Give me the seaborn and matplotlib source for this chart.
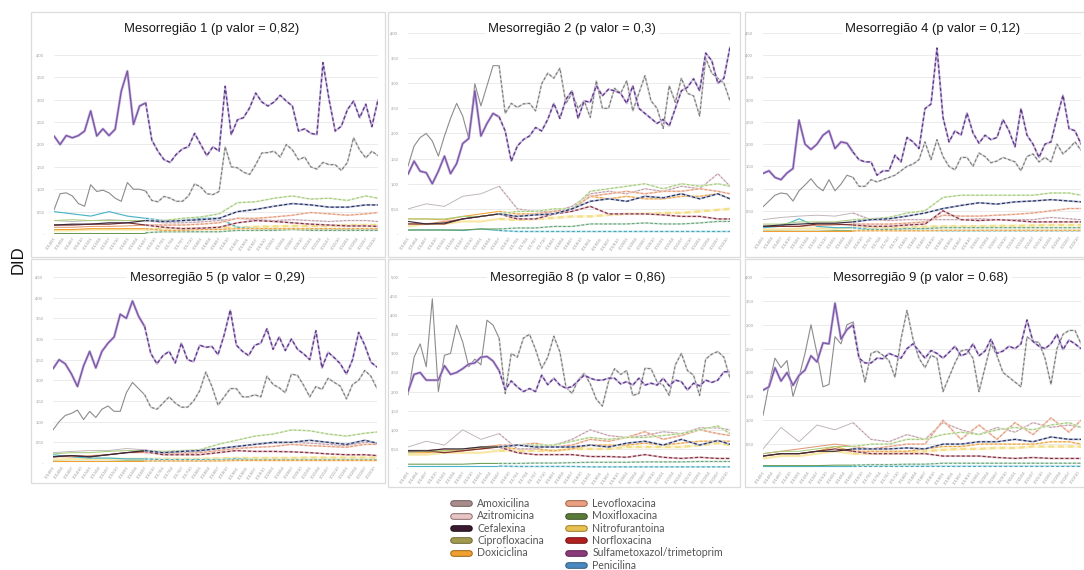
import numpy as np
import pandas as pd
import matplotlib
matplotlib.use("Agg")
import matplotlib.pyplot as plt
import matplotlib.patheffects as pe
from matplotlib.lines import Line2D
from matplotlib.patches import Rectangle
import seaborn as sns

sns.set_style("white")
plt.rcParams["font.family"] = ["Liberation Sans", "DejaVu Sans"]

# ---------------- data ----------------
ANTIBIOTICS_COL1 = ["Amoxicilina", "Azitromicina", "Cefalexina", "Ciprofloxacina", "Doxiciclina"]
ANTIBIOTICS_COL2 = ["Levofloxacina", "Moxifloxacina", "Nitrofurantoina", "Norfloxacina",
                    "Sulfametoxazol/trimetoprim", "Penicilina"]

START_YEAR = 2014
BREAK_MONTH = 30
MONTHS_MAIN = list(range(0, 107, 2))          # 54 points
MONTHS_LOW = list(range(0, 103, 6)) + [106]   # 19 points
TICK_MONTHS = list(range(0, 107, 3))
TICK_LABELS = [f"{START_YEAR + m // 12}/{m % 12 + 1:02d}" for m in TICK_MONTHS]

TITLES = ["Mesorregião 1 (p valor = 0,82)", "Mesorregião 2 (p valor = 0,3)",
          "Mesorregião 4 (p valor = 0,12)", "Mesorregião 5 (p valor = 0,29)",
          "Mesorregião 8 (p valor = 0,86)", "Mesorregião 9 (p valor = 0.68)"]
Y_TOPS = [4.0, 4.0, 4.5, 4.5, 5.0, 4.0]

# --- Mesorregião 1 ---
M1_SMX = [2.19, 2.0, 2.2, 2.15, 2.2, 2.3, 2.75, 2.19, 2.35, 2.2, 2.34, 3.19, 3.64, 2.45, 2.86, 2.93,
          2.1, 1.85, 1.66, 1.6, 1.78, 1.9, 1.95, 2.25, 2.0, 1.75, 1.95, 1.85, 3.3, 2.22, 2.55, 2.6,
          2.82, 3.15, 2.95, 2.86, 2.95, 3.1, 2.97, 2.86, 2.3, 2.35, 2.25, 2.22, 3.83, 3.0, 2.3, 2.41,
          2.78, 2.97, 2.6, 2.9, 2.4, 3.0]
M1_AMOX = [0.54, 0.9, 0.92, 0.85, 0.68, 0.62, 1.1, 0.95, 0.98, 0.92, 0.8, 0.73, 1.15, 1.0, 1.0, 0.96,
           0.75, 0.72, 0.84, 0.8, 0.73, 0.73, 0.85, 1.12, 1.05, 0.9, 0.88, 0.95, 1.95, 1.5, 1.48, 1.38,
           1.33, 1.55, 1.81, 1.82, 1.85, 1.72, 2.0, 1.88, 1.66, 1.72, 1.5, 1.45, 1.6, 1.55, 1.55, 1.42,
           1.6, 2.15, 1.88, 1.7, 1.85, 1.75]
M1_AZI = [0.3, 0.28, 0.3, 0.32, 0.3, 0.3, 0.25, 0.25, 0.27, 0.3, 0.35, 0.32, 0.3, 0.32, 0.3, 0.28, 0.3, 0.3, 0.28]
M1_CIPRO = [0.3, 0.32, 0.3, 0.3, 0.3, 0.3, 0.3, 0.35, 0.38, 0.45, 0.7, 0.72, 0.8, 0.85, 0.78, 0.8, 0.75, 0.85, 0.8]
M1_CEF = [0.2, 0.22, 0.22, 0.25, 0.25, 0.3, 0.28, 0.3, 0.32, 0.35, 0.5, 0.55, 0.62, 0.68, 0.65, 0.6, 0.6, 0.65, 0.65]
M1_DOXI = [0.1, 0.1, 0.12, 0.12, 0.12, 0.12, 0.08, 0.08, 0.1, 0.1, 0.12, 0.12, 0.12, 0.12, 0.12, 0.12, 0.12, 0.12, 0.12]
M1_LEVO = [0.15, 0.15, 0.17, 0.17, 0.18, 0.2, 0.2, 0.2, 0.22, 0.25, 0.35, 0.35, 0.38, 0.42, 0.48, 0.45, 0.42, 0.45, 0.48]
M1_MOXI = [0.03, 0.03, 0.03, 0.03, 0.03, 0.03, 0.05, 0.05, 0.05, 0.05, 0.08, 0.08, 0.08, 0.1, 0.08, 0.08, 0.08, 0.08, 0.08]
M1_NITRO = [0.08, 0.08, 0.1, 0.1, 0.1, 0.1, 0.12, 0.12, 0.12, 0.14, 0.15, 0.16, 0.17, 0.18, 0.18, 0.18, 0.2, 0.2, 0.2]
M1_NOR = [0.2, 0.2, 0.22, 0.22, 0.25, 0.2, 0.15, 0.12, 0.13, 0.15, 0.25, 0.3, 0.28, 0.25, 0.22, 0.2, 0.18, 0.18, 0.17]
M1_PEN = [0.5, 0.45, 0.4, 0.5, 0.4, 0.35, 0.3, 0.3, 0.35, 0.35, 0.15, 0.12, 0.1, 0.12, 0.1, 0.1, 0.1, 0.1, 0.1]

# --- Mesorregião 2 ---
M2_SMX = [1.19, 1.45, 1.25, 1.22, 1.0, 1.25, 1.55, 1.2, 1.4, 1.8, 1.9, 2.85, 1.95, 2.2, 2.4, 2.33,
          2.05, 1.45, 1.75, 1.88, 1.95, 2.12, 2.05, 2.28, 2.6, 2.3, 2.68, 2.85, 2.3, 2.65, 2.62, 2.95,
          2.75, 2.88, 2.85, 2.8, 2.6, 2.95, 2.5, 2.4, 2.3, 2.2, 2.28, 2.15, 2.5, 2.85, 2.92, 3.09,
          2.85, 3.6, 3.45, 3.0, 3.1, 3.72]
M2_AMOX = [1.35, 1.75, 1.92, 2.0, 1.85, 1.55, 1.95, 2.3, 2.6, 2.35, 1.9, 2.99, 2.55, 2.95, 3.35, 3.35,
           2.4, 2.6, 2.52, 2.59, 2.6, 2.45, 2.99, 3.2, 3.1, 3.3, 2.6, 2.8, 2.5, 2.65, 2.32, 3.05,
           2.5, 2.5, 2.9, 2.8, 3.05, 2.45, 2.8, 3.15, 2.65, 2.5, 2.1, 2.95, 2.62, 3.1, 2.8, 2.75,
           2.35, 3.5, 3.2, 3.1, 3.0, 2.65]
M2_AZI = [0.5, 0.6, 0.55, 0.75, 0.8, 0.95, 0.5, 0.45, 0.45, 0.55, 0.8, 0.85, 0.8, 0.9, 0.85, 0.95, 0.9, 1.2, 0.95]
M2_CIPRO = [0.3, 0.3, 0.3, 0.35, 0.35, 0.4, 0.45, 0.45, 0.5, 0.5, 0.85, 0.9, 0.95, 1.0, 0.9, 1.0, 0.95, 1.0, 0.95]
M2_CEF = [0.25, 0.2, 0.22, 0.3, 0.35, 0.4, 0.35, 0.38, 0.4, 0.5, 0.65, 0.7, 0.65, 0.75, 0.72, 0.8, 0.7, 0.8, 0.7]
M2_DOXI = [0.3, 0.3, 0.28, 0.35, 0.4, 0.45, 0.4, 0.4, 0.45, 0.5, 0.75, 0.7, 0.75, 0.7, 0.7, 0.75, 0.75, 0.8, 0.7]
M2_LEVO = [0.2, 0.2, 0.25, 0.3, 0.35, 0.4, 0.35, 0.4, 0.45, 0.5, 0.75, 0.8, 0.85, 0.8, 0.85, 0.85, 0.9, 0.85, 0.8]
M2_MOXI = [0.08, 0.08, 0.08, 0.08, 0.1, 0.1, 0.12, 0.12, 0.15, 0.15, 0.2, 0.2, 0.2, 0.22, 0.2, 0.2, 0.22, 0.25, 0.25]
M2_NITRO = [0.15, 0.2, 0.2, 0.25, 0.25, 0.3, 0.28, 0.3, 0.32, 0.35, 0.35, 0.38, 0.4, 0.4, 0.42, 0.42, 0.45, 0.48, 0.5]
M2_NOR = [0.2, 0.2, 0.2, 0.3, 0.35, 0.4, 0.3, 0.3, 0.4, 0.45, 0.55, 0.4, 0.4, 0.4, 0.38, 0.35, 0.35, 0.3, 0.3]
M2_PEN = [0.08, 0.08, 0.08, 0.07, 0.1, 0.07, 0.05, 0.05, 0.05, 0.05, 0.05, 0.05, 0.05, 0.05, 0.05, 0.05, 0.05, 0.05, 0.05]

# --- Mesorregião 4 ---
M4_SMX = [1.34, 1.4, 1.25, 1.2, 1.35, 1.45, 2.54, 2.0, 1.88, 2.0, 2.2, 2.3, 1.9, 2.05, 2.02, 1.82,
          1.65, 1.6, 1.6, 1.3, 1.4, 1.4, 1.75, 1.6, 2.15, 2.05, 1.9, 2.8, 2.9, 4.16, 2.6, 2.05,
          2.3, 2.2, 2.7, 2.25, 2.02, 2.2, 2.1, 2.15, 2.55, 2.3, 1.94, 2.8, 2.2, 2.0, 1.7, 2.0,
          2.05, 2.6, 3.1, 2.35, 2.3, 2.0]
M4_AMOX = [0.59, 0.72, 0.85, 0.9, 0.88, 0.72, 0.95, 1.08, 1.22, 1.05, 0.95, 1.2, 0.95, 1.1, 1.3, 1.25,
           1.05, 1.05, 1.2, 1.15, 1.2, 1.25, 1.3, 1.4, 1.5, 1.55, 1.65, 2.05, 1.65, 2.1, 1.72, 1.5,
           1.42, 1.7, 1.7, 1.5, 1.8, 1.72, 1.58, 1.62, 1.7, 1.65, 1.6, 1.4, 1.72, 1.78, 1.6, 1.7,
           1.6, 2.0, 1.78, 1.9, 2.05, 1.86]
M4_AZI = [0.3, 0.35, 0.38, 0.4, 0.38, 0.45, 0.3, 0.28, 0.3, 0.3, 0.3, 0.3, 0.32, 0.3, 0.3, 0.3, 0.35, 0.32, 0.3]
M4_CIPRO = [0.2, 0.2, 0.25, 0.25, 0.25, 0.3, 0.32, 0.35, 0.45, 0.5, 0.8, 0.85, 0.85, 0.85, 0.85, 0.85, 0.9, 0.9, 0.85]
M4_CEF = [0.15, 0.18, 0.2, 0.22, 0.22, 0.25, 0.3, 0.32, 0.38, 0.45, 0.55, 0.62, 0.68, 0.65, 0.7, 0.72, 0.75, 0.72, 0.7]
M4_DOXI = [0.05, 0.05, 0.05, 0.05, 0.05, 0.05, 0.05, 0.05, 0.05, 0.05, 0.06, 0.06, 0.06, 0.06, 0.06, 0.06, 0.06, 0.06, 0.06]
M4_LEVO = [0.15, 0.15, 0.15, 0.17, 0.18, 0.2, 0.2, 0.2, 0.22, 0.25, 0.4, 0.38, 0.38, 0.4, 0.42, 0.45, 0.5, 0.55, 0.55]
M4_MOXI = [0.04, 0.04, 0.04, 0.04, 0.05, 0.05, 0.08, 0.08, 0.1, 0.1, 0.12, 0.12, 0.12, 0.12, 0.12, 0.12, 0.12, 0.12, 0.12]
M4_NITRO = [0.08, 0.08, 0.1, 0.1, 0.1, 0.12, 0.12, 0.12, 0.12, 0.14, 0.15, 0.15, 0.15, 0.16, 0.16, 0.17, 0.18, 0.18, 0.18]
M4_NOR = [0.15, 0.15, 0.15, 0.2, 0.2, 0.18, 0.15, 0.15, 0.18, 0.2, 0.5, 0.3, 0.28, 0.3, 0.28, 0.25, 0.25, 0.25, 0.25]
M4_PEN = [0.12, 0.15, 0.32, 0.15, 0.12, 0.12, 0.08, 0.07, 0.06, 0.06, 0.05, 0.05, 0.05, 0.05, 0.05, 0.05, 0.05, 0.05, 0.05]

# --- Mesorregião 5 ---
M5_SMX = [2.28, 2.5, 2.4, 2.16, 1.85, 2.35, 2.7, 2.3, 2.7, 2.9, 3.05, 3.6, 3.5, 3.92, 3.55, 3.3,
          2.65, 2.4, 2.6, 2.7, 2.42, 2.9, 2.5, 2.45, 2.85, 2.8, 2.82, 2.62, 3.1, 3.7, 2.85, 2.7,
          2.6, 2.85, 2.9, 3.25, 2.75, 3.05, 2.72, 3.0, 2.75, 2.64, 2.5, 3.2, 2.3, 2.68, 2.55, 2.4,
          2.15, 2.5, 3.16, 2.85, 2.44, 2.32]
M5_AMOX = [0.8, 1.0, 1.15, 1.2, 1.28, 1.05, 1.25, 1.1, 1.3, 1.38, 1.25, 1.25, 1.7, 1.95, 1.8, 1.65,
           1.35, 1.3, 1.45, 1.6, 1.45, 1.35, 1.35, 1.5, 1.75, 2.2, 1.85, 1.4, 1.6, 1.8, 1.8, 1.6,
           1.6, 1.65, 1.6, 2.1, 1.9, 1.82, 1.7, 2.15, 2.12, 1.88, 1.6, 1.85, 1.78, 2.05, 1.95, 1.86,
           1.55, 1.9, 2.0, 2.24, 2.1, 1.8]
M5_AZI = [0.25, 0.28, 0.3, 0.3, 0.35, 0.32, 0.25, 0.25, 0.28, 0.35, 0.4, 0.45, 0.48, 0.5, 0.48, 0.45, 0.42, 0.5, 0.48]
M5_CIPRO = [0.22, 0.25, 0.25, 0.28, 0.3, 0.3, 0.28, 0.3, 0.32, 0.45, 0.55, 0.65, 0.7, 0.8, 0.78, 0.7, 0.65, 0.72, 0.75]
M5_CEF = [0.15, 0.18, 0.15, 0.2, 0.25, 0.3, 0.25, 0.28, 0.3, 0.35, 0.4, 0.45, 0.5, 0.5, 0.55, 0.5, 0.45, 0.55, 0.48]
M5_DOXI = [0.05, 0.05, 0.05, 0.05, 0.05, 0.05, 0.05, 0.05, 0.05, 0.05, 0.06, 0.06, 0.06, 0.06, 0.06, 0.06, 0.06, 0.06, 0.06]
M5_LEVO = [0.15, 0.15, 0.18, 0.2, 0.25, 0.25, 0.22, 0.22, 0.25, 0.3, 0.35, 0.38, 0.4, 0.45, 0.42, 0.4, 0.38, 0.45, 0.45]
M5_MOXI = [0.04, 0.04, 0.04, 0.04, 0.05, 0.05, 0.05, 0.05, 0.05, 0.06, 0.08, 0.08, 0.08, 0.08, 0.08, 0.08, 0.08, 0.08, 0.08]
M5_NITRO = [0.08, 0.1, 0.1, 0.1, 0.1, 0.1, 0.1, 0.1, 0.1, 0.11, 0.12, 0.12, 0.12, 0.12, 0.13, 0.13, 0.13, 0.13, 0.13]
M5_NOR = [0.15, 0.18, 0.15, 0.2, 0.25, 0.28, 0.2, 0.2, 0.2, 0.25, 0.3, 0.28, 0.28, 0.27, 0.25, 0.22, 0.2, 0.2, 0.18]
M5_PEN = [0.2, 0.15, 0.12, 0.12, 0.1, 0.1, 0.08, 0.08, 0.08, 0.08, 0.1, 0.08, 0.08, 0.08, 0.08, 0.08, 0.08, 0.08, 0.08]

# --- Mesorregião 8 ---
M8_SMX = [2.0, 2.45, 2.5, 2.3, 2.3, 2.3, 2.68, 2.45, 2.5, 2.6, 2.72, 2.75, 2.9, 2.92, 2.8, 2.55,
          2.05, 2.28, 2.12, 2.0, 2.08, 2.0, 2.43, 2.18, 2.35, 2.17, 2.09, 2.13, 2.28, 2.43, 2.35, 2.3,
          2.3, 2.35, 2.35, 2.2, 2.26, 2.17, 2.35, 2.17, 2.22, 2.17, 2.35, 2.15, 2.3, 2.26, 2.04, 2.22,
          2.15, 2.3, 2.24, 2.3, 2.52, 2.52]
M8_AMOX = [1.91, 2.9, 3.25, 2.65, 4.43, 2.0, 2.95, 3.0, 3.74, 3.3, 2.65, 2.85, 2.7, 3.87, 3.74, 3.4,
           1.95, 3.0, 2.9, 3.4, 3.5, 3.1, 2.61, 2.9, 3.45, 3.04, 2.12, 1.95, 2.3, 2.48, 2.2, 1.8,
           1.62, 2.26, 2.6, 2.45, 2.55, 1.9, 1.95, 2.61, 2.6, 2.25, 2.17, 1.9, 2.7, 3.0, 2.55, 2.43,
           1.9, 2.85, 2.98, 3.05, 2.9, 2.35]
M8_AZI = [0.55, 0.7, 0.6, 1.0, 0.75, 0.9, 0.5, 0.5, 0.6, 0.75, 1.0, 0.85, 0.8, 0.85, 0.95, 0.9, 1.05, 1.05, 1.0]
M8_CIPRO = [0.4, 0.45, 0.45, 0.5, 0.55, 0.55, 0.6, 0.6, 0.6, 0.7, 0.8, 0.75, 0.8, 0.8, 0.85, 0.9, 1.0, 1.1, 0.9]
M8_CEF = [0.45, 0.45, 0.5, 0.5, 0.55, 0.55, 0.6, 0.55, 0.55, 0.55, 0.6, 0.55, 0.65, 0.7, 0.6, 0.75, 0.6, 0.72, 0.62]
M8_DOXI = [0.4, 0.4, 0.45, 0.45, 0.5, 0.55, 0.5, 0.5, 0.45, 0.5, 0.6, 0.6, 0.6, 0.65, 0.6, 0.65, 0.7, 0.7, 0.7]
M8_LEVO = [0.45, 0.45, 0.5, 0.45, 0.55, 0.6, 0.6, 0.65, 0.55, 0.6, 0.75, 0.7, 0.8, 0.95, 0.75, 0.85, 1.0, 0.9, 0.85]
M8_MOXI = [0.1, 0.1, 0.1, 0.1, 0.12, 0.12, 0.12, 0.13, 0.13, 0.14, 0.15, 0.15, 0.15, 0.16, 0.16, 0.16, 0.17, 0.17, 0.17]
M8_NITRO = [0.35, 0.35, 0.4, 0.4, 0.4, 0.45, 0.45, 0.45, 0.45, 0.5, 0.5, 0.5, 0.55, 0.55, 0.55, 0.55, 0.6, 0.65, 0.6]
M8_NOR = [0.45, 0.45, 0.4, 0.45, 0.5, 0.55, 0.4, 0.35, 0.35, 0.35, 0.3, 0.3, 0.28, 0.35, 0.28, 0.25, 0.28, 0.25, 0.25]
M8_PEN = [0.05, 0.05, 0.05, 0.05, 0.05, 0.05, 0.04, 0.04, 0.04, 0.04, 0.03, 0.03, 0.03, 0.03, 0.03, 0.03, 0.03, 0.03, 0.03]

# --- Mesorregião 9 ---
M9_SMX = [1.63, 1.7, 2.1, 1.82, 2.0, 1.73, 1.94, 2.05, 2.35, 2.22, 2.62, 2.6, 3.45, 2.7, 2.9, 3.0,
          2.3, 2.2, 2.2, 2.3, 2.29, 2.4, 2.35, 2.3, 2.5, 2.6, 2.45, 2.3, 2.46, 2.4, 2.3, 2.42,
          2.55, 2.35, 2.4, 2.6, 2.35, 2.45, 2.7, 2.4, 2.45, 2.55, 2.5, 2.6, 3.1, 2.65, 2.55, 2.5,
          2.6, 2.8, 2.48, 2.68, 2.6, 2.5]
M9_AMOX = [1.1, 1.75, 2.3, 2.1, 2.25, 1.5, 1.9, 2.4, 3.0, 2.4, 1.7, 1.75, 2.75, 2.6, 3.0, 3.06,
           2.35, 1.8, 2.4, 2.45, 2.36, 2.25, 1.9, 2.7, 3.3, 2.7, 2.3, 2.1, 2.36, 2.3, 1.6, 1.9,
           2.2, 2.45, 2.48, 2.3, 1.6, 2.1, 2.6, 2.35, 2.0, 1.9, 1.8, 1.7, 2.75, 2.65, 2.63, 2.3,
           1.75, 2.5, 2.8, 2.88, 2.88, 2.6]
M9_AZI = [0.4, 0.85, 0.55, 0.9, 0.8, 0.95, 0.6, 0.55, 0.7, 0.6, 0.95, 0.8, 0.7, 0.85, 0.75, 0.95, 0.85, 0.9, 0.85]
M9_CIPRO = [0.3, 0.35, 0.35, 0.4, 0.45, 0.45, 0.5, 0.5, 0.6, 0.6, 0.7, 0.75, 0.7, 0.8, 0.85, 0.8, 0.9, 0.95, 0.85]
M9_CEF = [0.25, 0.3, 0.3, 0.35, 0.35, 0.4, 0.4, 0.4, 0.42, 0.4, 0.5, 0.5, 0.55, 0.55, 0.6, 0.55, 0.65, 0.6, 0.6]
M9_DOXI = [0.25, 0.3, 0.3, 0.35, 0.45, 0.35, 0.35, 0.35, 0.35, 0.4, 0.45, 0.45, 0.5, 0.5, 0.5, 0.5, 0.55, 0.55, 0.5]
M9_LEVO = [0.3, 0.35, 0.4, 0.45, 0.5, 0.45, 0.4, 0.45, 0.5, 0.5, 1.0, 0.6, 0.9, 0.6, 0.95, 0.7, 1.05, 0.75, 1.0]
M9_MOXI = [0.05, 0.05, 0.05, 0.05, 0.06, 0.06, 0.07, 0.07, 0.08, 0.08, 0.1, 0.1, 0.1, 0.1, 0.1, 0.1, 0.1, 0.1, 0.1]
M9_NITRO = [0.2, 0.25, 0.25, 0.3, 0.35, 0.3, 0.3, 0.3, 0.32, 0.35, 0.38, 0.4, 0.4, 0.42, 0.42, 0.45, 0.45, 0.45, 0.45]
M9_NOR = [0.25, 0.3, 0.3, 0.35, 0.4, 0.35, 0.3, 0.3, 0.3, 0.3, 0.25, 0.25, 0.25, 0.22, 0.2, 0.22, 0.2, 0.2, 0.2]
M9_PEN = [0.04, 0.04, 0.04, 0.04, 0.04, 0.04, 0.04, 0.04, 0.04, 0.04, 0.04, 0.04, 0.04, 0.04, 0.04, 0.04, 0.04, 0.04, 0.04]

PANEL_DATA = [
    dict(smx=M1_SMX, amox=M1_AMOX, low=dict(Azitromicina=M1_AZI, Ciprofloxacina=M1_CIPRO, Cefalexina=M1_CEF,
         Doxiciclina=M1_DOXI, Levofloxacina=M1_LEVO, Moxifloxacina=M1_MOXI, Nitrofurantoina=M1_NITRO,
         Norfloxacina=M1_NOR, Penicilina=M1_PEN)),
    dict(smx=M2_SMX, amox=M2_AMOX, low=dict(Azitromicina=M2_AZI, Ciprofloxacina=M2_CIPRO, Cefalexina=M2_CEF,
         Doxiciclina=M2_DOXI, Levofloxacina=M2_LEVO, Moxifloxacina=M2_MOXI, Nitrofurantoina=M2_NITRO,
         Norfloxacina=M2_NOR, Penicilina=M2_PEN)),
    dict(smx=M4_SMX, amox=M4_AMOX, low=dict(Azitromicina=M4_AZI, Ciprofloxacina=M4_CIPRO, Cefalexina=M4_CEF,
         Doxiciclina=M4_DOXI, Levofloxacina=M4_LEVO, Moxifloxacina=M4_MOXI, Nitrofurantoina=M4_NITRO,
         Norfloxacina=M4_NOR, Penicilina=M4_PEN)),
    dict(smx=M5_SMX, amox=M5_AMOX, low=dict(Azitromicina=M5_AZI, Ciprofloxacina=M5_CIPRO, Cefalexina=M5_CEF,
         Doxiciclina=M5_DOXI, Levofloxacina=M5_LEVO, Moxifloxacina=M5_MOXI, Nitrofurantoina=M5_NITRO,
         Norfloxacina=M5_NOR, Penicilina=M5_PEN)),
    dict(smx=M8_SMX, amox=M8_AMOX, low=dict(Azitromicina=M8_AZI, Ciprofloxacina=M8_CIPRO, Cefalexina=M8_CEF,
         Doxiciclina=M8_DOXI, Levofloxacina=M8_LEVO, Moxifloxacina=M8_MOXI, Nitrofurantoina=M8_NITRO,
         Norfloxacina=M8_NOR, Penicilina=M8_PEN)),
    dict(smx=M9_SMX, amox=M9_AMOX, low=dict(Azitromicina=M9_AZI, Ciprofloxacina=M9_CIPRO, Cefalexina=M9_CEF,
         Doxiciclina=M9_DOXI, Levofloxacina=M9_LEVO, Moxifloxacina=M9_MOXI, Nitrofurantoina=M9_NITRO,
         Norfloxacina=M9_NOR, Penicilina=M9_PEN)),
]

# ---------------- styles ----------------
LINE_STYLE = {
    # name: (solid colour, dashed colour, light underlay, linewidth)
    "Sulfametoxazol/trimetoprim": ("#7b56a6", "#5d3a85", "#c9b6de", 0.95),
    "Amoxicilina": ("#8c8c8c", "#7a7a7a", "#d6d6d6", 0.8),
    "Azitromicina": ("#bdb3b6", "#b9949f", "#eadde1", 0.65),
    "Ciprofloxacina": ("#a9cf7f", "#a2c878", "#e0eecf", 0.75),
    "Cefalexina": ("#3a2a3a", "#2a3050", "#b4bcdc", 0.85),
    "Doxiciclina": ("#f0a030", "#eba040", "#f8dcb0", 0.75),
    "Levofloxacina": ("#e29a78", "#e2987a", "#f4d4c4", 0.75),
    "Moxifloxacina": ("#6a9a50", "#66a078", "#cde4d4", 0.75),
    "Nitrofurantoina": ("#f6e08a", "#f2d870", "#fbf1c8", 1.6),
    "Norfloxacina": ("#7a3030", "#7a3040", "#e4c0c8", 0.85),
    "Penicilina": ("#4cb5c8", "#4aa8b8", "#c8e8f0", 0.85),
}
DRAW_ORDER = ["Nitrofurantoina", "Penicilina", "Moxifloxacina", "Doxiciclina", "Azitromicina",
              "Levofloxacina", "Norfloxacina", "Ciprofloxacina", "Cefalexina",
              "Amoxicilina", "Sulfametoxazol/trimetoprim"]

LEGEND_COLORS = {
    "Amoxicilina": ("#a88c8c", "#6e5a5a"),
    "Azitromicina": ("#e8c4c4", "#8a6a6a"),
    "Cefalexina": ("#3a1a30", "#1e0d18"),
    "Ciprofloxacina": ("#a09a50", "#6a6530"),
    "Doxiciclina": ("#f0a030", "#9a6010"),
    "Levofloxacina": ("#e8a080", "#9a5a40"),
    "Moxifloxacina": ("#5a7a3a", "#3a5020"),
    "Nitrofurantoina": ("#e8c050", "#9a7a20"),
    "Norfloxacina": ("#b02020", "#701010"),
    "Sulfametoxazol/trimetoprim": ("#8a3a78", "#5a2050"),
    "Penicilina": ("#4a88c0", "#2a5a80"),
}

W, H = 1084, 570
# axes boxes in pixels: (x0, x1, y_top, y_bottom)
AX_PX = [(54, 378, 55, 234), (408, 730, 33, 234), (763, 1081, 33, 233),
         (53, 377, 277, 463), (408, 730, 277, 468), (763, 1081, 277, 468)]
PANEL_PX = [(31, 12, 354, 245), (388, 12, 352, 245), (745, 12, 360, 245),
            (31, 259, 354, 224), (388, 259, 352, 228), (745, 259, 360, 228)]
TITLE_PX = [(212, 29), (572, 29), (933, 29), (217, 278), (578, 278), (921, 278)]


def long_frame(pdata):
    rows = []
    for m, v in zip(MONTHS_MAIN, pdata["smx"]):
        rows.append(("Sulfametoxazol/trimetoprim", m, v))
    for m, v in zip(MONTHS_MAIN, pdata["amox"]):
        rows.append(("Amoxicilina", m, v))
    for name, vals in pdata["low"].items():
        for m, v in zip(MONTHS_LOW, vals):
            rows.append((name, m, v))
    return pd.DataFrame(rows, columns=["serie", "mes", "DID"])


fig = plt.figure(figsize=(W / 100, H / 100), dpi=100)
fig.patch.set_facecolor("white")

for (px, py, pw, ph) in PANEL_PX:
    fig.add_artist(Rectangle((px / W, 1 - (py + ph) / H), pw / W, ph / H,
                             transform=fig.transFigure, fill=False, ec="#dcdcdc", lw=0.9, zorder=0))

for i, pdata in enumerate(PANEL_DATA):
    x0, x1, yt, yb = AX_PX[i]
    ax = fig.add_axes([x0 / W, 1 - yb / H, (x1 - x0) / W, (yb - yt) / H])
    ax.patch.set_alpha(0)
    df = long_frame(pdata)
    for name in DRAW_ORDER:
        d = df[df["serie"] == name]
        c_solid, c_dash, c_under, lw = LINE_STYLE[name]
        solid = d[d["mes"] <= BREAK_MONTH]
        dashed = d[d["mes"] >= BREAK_MONTH]
        alpha = 0.75 if name == "Nitrofurantoina" else 1.0
        peff = None
        if name == "Sulfametoxazol/trimetoprim":
            peff = [pe.Stroke(linewidth=1.9, foreground=c_under), pe.Normal()]
        sns.lineplot(data=solid, x="mes", y="DID", color=c_solid, lw=lw, ax=ax,
                     estimator=None, legend=False, alpha=alpha, path_effects=peff)
        sns.lineplot(data=dashed, x="mes", y="DID", color=c_under, lw=lw + 0.5, ax=ax,
                     estimator=None, legend=False, alpha=alpha)
        sns.lineplot(data=dashed, x="mes", y="DID", color=c_dash, lw=lw, ax=ax,
                     estimator=None, legend=False, alpha=alpha, linestyle=(0, (2.6, 1.8)))
    top = Y_TOPS[i]
    ax.set_xlim(0, 106)
    ax.set_ylim(0, top)
    yt_vals = np.arange(0, top + 0.001, 0.5)
    ax.set_yticks(yt_vals)
    ax.set_yticklabels(["-" if v == 0 else f"{v:.2f}".replace(".", ",") for v in yt_vals])
    ax.set_xticks(TICK_MONTHS)
    ax.set_xticklabels(TICK_LABELS, rotation=55, ha="right", rotation_mode="anchor")
    ax.tick_params(axis="y", labelsize=3, colors="#9a9a9a", length=0, pad=7)
    ax.tick_params(axis="x", labelsize=3, colors="#9a9a9a", length=0, pad=2)
    ax.grid(axis="y", color="#e8e8e8", lw=0.6)
    ax.grid(axis="x", visible=False)
    ax.set_axisbelow(True)
    ax.set_xlabel("")
    ax.set_ylabel("")
    for s in ax.spines.values():
        s.set_visible(False)
    tx, ty = TITLE_PX[i]
    fig.text(tx / W, 1 - ty / H, TITLES[i], ha="center", va="center", fontsize=9.4,
             color="#1a1a1a", bbox=dict(fc="white", ec="none", pad=2.5))

fig.text(18 / W, 1 - 260 / H, "DID", rotation=90, ha="center", va="center",
         fontsize=12, color="#111111")


def legend_handles(names):
    hs = []
    for n in names:
        fill, edge = LEGEND_COLORS[n]
        hs.append(Line2D([0], [0], color=fill, lw=3.4, solid_capstyle="round",
                         path_effects=[pe.Stroke(linewidth=4.8, foreground=edge, capstyle="round"), pe.Normal()]))
    return hs


leg_kw = dict(frameon=False, handlelength=1.5, handletextpad=0.8,
              labelspacing=0.13, borderpad=0, borderaxespad=0, loc="upper left",
              prop={"family": ["Lato", "DejaVu Sans"], "size": 7.6})
l1 = fig.legend(legend_handles(ANTIBIOTICS_COL1), ANTIBIOTICS_COL1,
                bbox_to_anchor=(453 / W, 1 - 498 / H), **leg_kw)
l2 = fig.legend(legend_handles(ANTIBIOTICS_COL2), ANTIBIOTICS_COL2,
                bbox_to_anchor=(568 / W, 1 - 498 / H), **leg_kw)
for leg in (l1, l2):
    for t in leg.get_texts():
        t.set_color("#555555")

fig.savefig("out.png", dpi=100, facecolor="white")
